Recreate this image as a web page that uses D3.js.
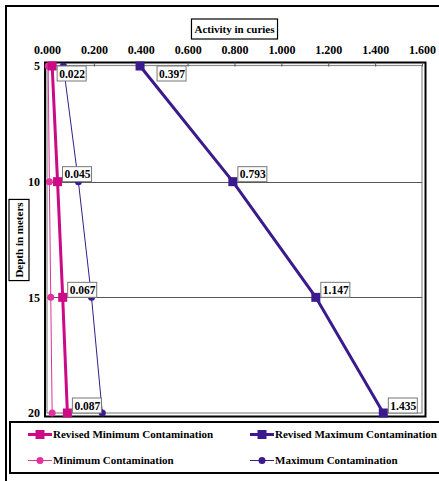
<!DOCTYPE html>
<html>
<head>
<meta charset="utf-8">
<script src="https://cdn.jsdelivr.net/npm/d3@7"></script>
<style>
  html, body { margin: 0; padding: 0; background: #fff; }
  svg { display: block; }
  text { font-family: "Liberation Serif", "Times New Roman", serif; font-weight: bold; fill: #000; }
</style>
</head>
<body>
<svg id="chart" width="439" height="481"></svg>
<script>
// Depth (m) on the vertical axis, activity (curies) on the horizontal axis
const depths = [5, 10, 15, 20];
const revisedMin = [0.022, 0.045, 0.067, 0.087];
const revisedMax = [0.397, 0.793, 1.147, 1.435];
const minContam = [0.005, 0.010, 0.016, 0.022];
const maxContam = [0.070, 0.134, 0.190, 0.236];
const xTicks = [0, 0.2, 0.4, 0.6, 0.8, 1.0, 1.2, 1.4, 1.6];
const yTicks = [5, 10, 15, 20];
const seriesNames = ["Revised Minimum Contamination", "Revised Maximum Contamination",
                     "Minimum Contamination", "Maximum Contamination"];

const svg = d3.select("#chart");

const plot = { left: 47, right: 422, top: 66, bottom: 413 };
const x = d3.scaleLinear().domain([0, 1.6]).range([plot.left, plot.right]);
const y = d3.scaleLinear().domain([5, 20]).range([plot.top, plot.bottom]);

// outer chart frame (right and bottom edges fall outside the page)
svg.append("path")
  .attr("d", "M6,482 L6,6 L442,6")
  .attr("fill", "none").attr("stroke", "#000").attr("stroke-width", 2);

// plot frame: black outer box, grey inner box
svg.append("rect")
  .attr("x", 45).attr("y", 62.5).attr("width", 380.5).attr("height", 354)
  .attr("fill", "none").attr("stroke", "#000").attr("stroke-width", 2);
svg.append("rect")
  .attr("x", plot.left).attr("y", plot.top - 0.5)
  .attr("width", plot.right - plot.left).attr("height", plot.bottom - plot.top + 0.5)
  .attr("fill", "none").attr("stroke", "#8a8a8a").attr("stroke-width", 1.2);

// horizontal gridlines
svg.append("g").selectAll("line")
  .data(yTicks.filter(d => d > 5 && d < 20))
  .join("line")
  .attr("x1", plot.left).attr("x2", plot.right)
  .attr("y1", d => Math.round(y(d)) + 0.5).attr("y2", d => Math.round(y(d)) + 0.5)
  .attr("stroke", "#555").attr("stroke-width", 1);

// top axis
const xAxis = d3.axisTop(x)
  .tickValues(xTicks)
  .tickFormat(d3.format(".3f"))
  .tickSizeInner(-4).tickSizeOuter(0).tickPadding(9);
const gx = svg.append("g").attr("transform", "translate(0,62.5)").call(xAxis);
gx.select(".domain").remove();
gx.selectAll(".tick line").attr("stroke", "#555");
gx.selectAll(".tick text")
  .attr("font-family", "Liberation Serif").attr("font-weight", "bold")
  .attr("font-size", 12).attr("fill", "#000");

// left axis labels
const yAxis = d3.axisLeft(y).tickValues(yTicks).tickSize(0).tickPadding(7);
const gy = svg.append("g").attr("transform", "translate(" + plot.left + ",0)").call(yAxis);
gy.select(".domain").remove();
gy.selectAll(".tick text")
  .attr("font-family", "Liberation Serif").attr("font-weight", "bold")
  .attr("font-size", 12).attr("fill", "#000");

// axis titles in boxes
function boxedTitle(cx, cy, txt, rotate) {
  const g = svg.append("g").attr("transform", "translate(" + cx + "," + cy + ")" + (rotate ? " rotate(-90)" : ""));
  const t = g.append("text").attr("text-anchor", "middle").attr("dy", "0.35em")
    .attr("font-size", 11).text(txt);
  const w = t.node().getComputedTextLength();
  g.insert("rect", "text")
    .attr("x", -w / 2 - 3).attr("y", -10).attr("width", w + 6).attr("height", 20)
    .attr("fill", "#fff").attr("stroke", "#000").attr("stroke-width", 1.2);
}
boxedTitle(234.5, 29, "Activity in curies", false);
boxedTitle(19, 240, "Depth in meters", true);

const colors = {
  revisedMin: "#cc0a86",
  revisedMax: "#3a1a8c",
  min: "#e0329a",
  max: "#3a1a8c"
};

const series = [
  { name: seriesNames[0], values: revisedMin, color: colors.revisedMin, width: 3, marker: "square", labelled: true },
  { name: seriesNames[1], values: revisedMax, color: colors.revisedMax, width: 3, marker: "square", labelled: true },
  { name: seriesNames[2], values: minContam, color: colors.min, width: 1, marker: "circle", labelled: false },
  { name: seriesNames[3], values: maxContam, color: colors.max, width: 1, marker: "circle", labelled: false }
];

const line = d3.line().x(d => x(d.v)).y(d => y(d.depth));

function drawMarker(g, kind, color, cx, cy) {
  if (kind === "square") {
    g.append("rect").attr("x", cx - 4.5).attr("y", cy - 4.5).attr("width", 9).attr("height", 9)
      .attr("fill", color);
  } else {
    g.append("circle").attr("cx", cx).attr("cy", cy).attr("r", 3.5).attr("fill", color);
  }
}

const marks = svg.append("g");
series.slice().reverse().forEach(s => {
  const pts = depths.map((d, i) => ({ depth: d, v: s.values[i] }));
  marks.append("path").datum(pts).attr("d", line)
    .attr("fill", "none").attr("stroke", s.color).attr("stroke-width", s.width);
  pts.forEach(p => drawMarker(marks, s.marker, s.color, x(p.v), y(p.depth)));
});

// value labels: below-right on the shallowest point, above-right elsewhere
const labels = svg.append("g");
series.filter(s => s.labelled).forEach((s, si) => {
  depths.forEach((d, i) => {
    const v = s.values[i];
    const px = x(v), py = y(d);
    const dx = (i === 0 && si === 1) ? 17 : 5;
    const bx = px + dx;
    const by = i === 0 ? py : py - 15;
    const g = labels.append("g").attr("transform", "translate(" + bx + "," + by + ")");
    g.append("rect").attr("width", 29).attr("height", 15)
      .attr("fill", "#fff").attr("stroke", "#777").attr("stroke-width", 1);
    g.append("text").attr("x", 2).attr("y", 11.5).attr("font-size", 11.5)
      .text(d3.format(".3f")(v));
  });
});

// legend
const lg = svg.append("g");
lg.append("rect").attr("x", 10).attr("y", 422).attr("width", 440).attr("height", 51)
  .attr("fill", "#fff").attr("stroke", "#000").attr("stroke-width", 2);
const legendPos = [[28, 434.5], [250, 434.5], [28, 460.5], [250, 460.5]];
series.forEach((s, i) => {
  const [lx, ly] = legendPos[i];
  lg.append("line").attr("x1", lx).attr("x2", lx + 24).attr("y1", ly).attr("y2", ly)
    .attr("stroke", s.color).attr("stroke-width", s.width);
  drawMarker(lg, s.marker, s.color, lx + 12, ly);
  lg.append("text").attr("x", lx + 25).attr("y", ly).attr("dy", "0.35em")
    .attr("font-size", 11).text(s.name);
});
</script>
</body>
</html>
